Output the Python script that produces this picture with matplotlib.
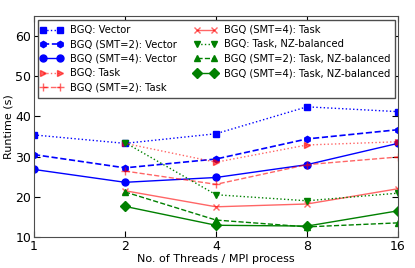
import numpy as np
import matplotlib
matplotlib.use("Agg")
import matplotlib.pyplot as plt
from matplotlib.lines import Line2D
from matplotlib.legend_handler import HandlerLine2D

threads = [1, 2, 4, 8, 16]
threads_task = [2, 4, 8, 16]

vec = [35.4, 33.3, 35.7, 42.4, 41.2]
vec_smt2 = [30.5, 27.2, 29.4, 34.4, 36.7]
vec_smt4 = [26.8, 23.6, 24.8, 28.0, 33.3]
task = [33.3, 28.6, 32.9, 33.7]
task_smt2 = [26.4, 23.1, 28.0, 29.9]
task_smt4 = [21.5, 17.5, 18.2, 22.0]
nz = [33.5, 20.5, 19.0, 20.9]
nz_smt2 = [21.2, 14.2, 12.5, 13.5]
nz_smt4 = [17.6, 12.9, 12.7, 16.5]

matplotlib.rcParams["font.family"] = "DejaVu Sans"
matplotlib.rcParams["font.size"] = 8

fig, ax = plt.subplots(figsize=(4.15, 2.68), dpi=100)
fig.subplots_adjust(left=0.082, right=0.959, top=0.94, bottom=0.116)

blue = (0, 0, 1)
red = (1, 0, 0)
green = (0, 0.5, 0)

ax.plot(threads, vec, ":", color=blue, marker="s", markersize=4.5, lw=1, label="BGQ: Vector")
ax.plot(threads, vec_smt2, "--", color=blue, marker="h", markersize=4.5, lw=1.2, label="BGQ (SMT=2): Vector")
ax.plot(threads, vec_smt4, "-", color=blue, marker="o", markersize=5, lw=1, label="BGQ (SMT=4): Vector")
ax.plot(threads_task, task, ":", color=red, marker=">", markersize=5, lw=1, alpha=0.6, label="BGQ: Task")
ax.plot(threads_task, task_smt2, "--", color=red, marker="+", markersize=6, lw=1, alpha=0.6, label="BGQ (SMT=2): Task")
ax.plot(threads_task, task_smt4, "-", color=red, marker="x", markersize=5, lw=1, alpha=0.6, label="BGQ (SMT=4): Task")
ax.plot(threads_task, nz, ":", color=green, marker="v", markersize=5, lw=1, label="BGQ: Task, NZ-balanced")
ax.plot(threads_task, nz_smt2, "--", color=green, marker="^", markersize=5, lw=1, label="BGQ (SMT=2): Task, NZ-balanced")
ax.plot(threads_task, nz_smt4, "-", color=green, marker="D", markersize=5, lw=1, label="BGQ (SMT=4): Task, NZ-balanced")

ax.set_xscale("log", base=2)
ax.set_xlim(1, 16)
ax.set_xticks(threads)
ax.set_xticklabels([str(t) for t in threads])
ax.minorticks_off()
ax.set_ylim(10, 65)
ax.set_yticks([10, 20, 30, 40, 50, 60])
ax.tick_params(direction="in", top=True, right=True, length=4, labelsize=9, pad=2)
ax.set_xlabel("No. of Threads / MPI process", fontsize=8, labelpad=1)
ax.set_ylabel("Runtime (s)", fontsize=8, labelpad=1)
for s in ax.spines.values():
    s.set_color("0.3")

# pick the legend font size so the longest label is ~167 px wide, like the reference
renderer = fig.canvas.get_renderer()
probe = fig.text(0, 0, "BGQ (SMT=2): Task, NZ-balanced", fontsize=10)
w = probe.get_window_extent(renderer).width
probe.remove()
fs = 10 * 167 / w
fpx = fs * fig.dpi / 72

ax.legend(loc="upper left", bbox_to_anchor=(38 / 415, 1 - 20 / 268),
          bbox_transform=fig.transFigure, borderaxespad=0,
          ncol=2, fontsize=fs, fancybox=False, edgecolor="0.3",
          handler_map={Line2D: HandlerLine2D(marker_pad=0, numpoints=2)},
          handlelength=17 / fpx, handletextpad=10 / fpx, columnspacing=20 / fpx,
          labelspacing=0.45, borderpad=5 / fpx, framealpha=1)

plt.savefig("out.png", dpi=100)
